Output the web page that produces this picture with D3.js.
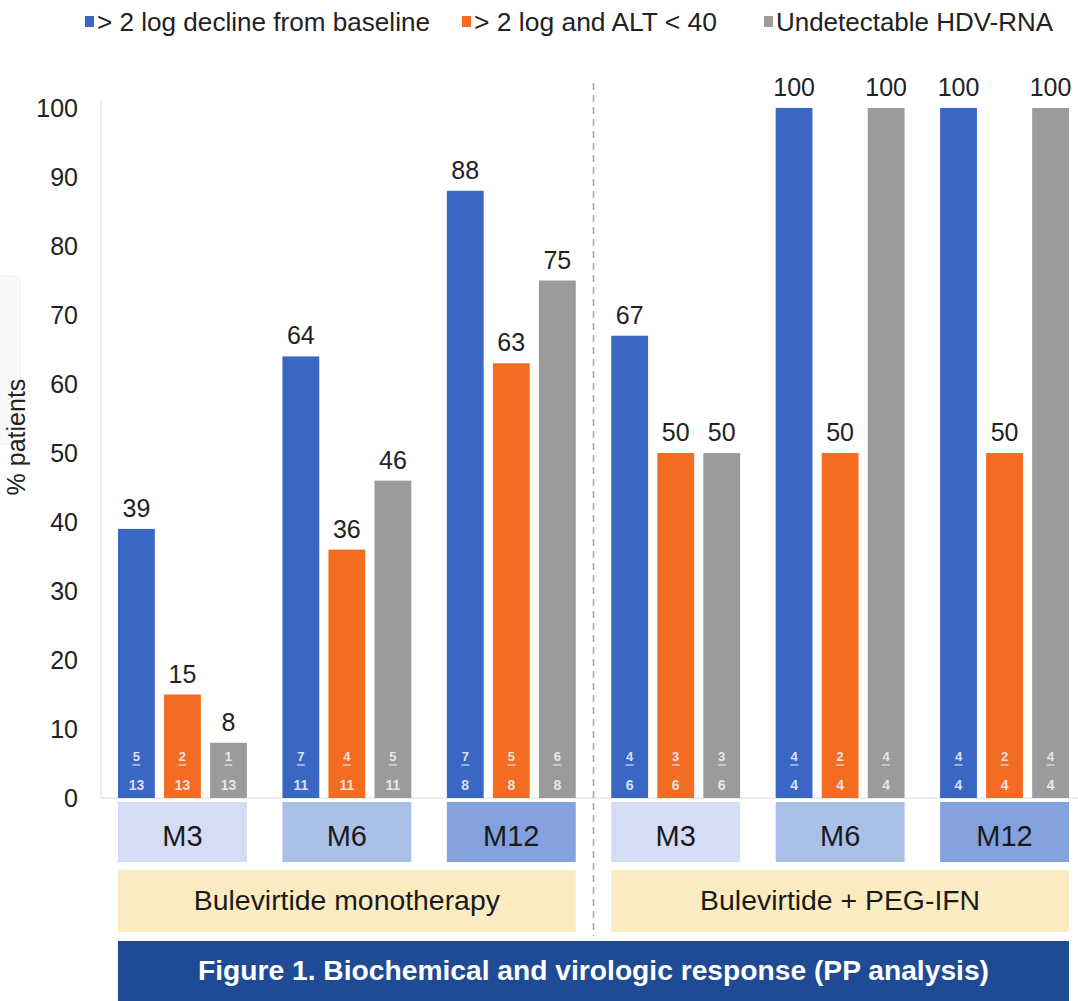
<!DOCTYPE html>
<html>
<head>
<meta charset="utf-8">
<script src="https://cdn.jsdelivr.net/npm/d3@7"></script>
<style>
  body { margin: 0; background: #fff; }
  svg { display: block; font-family: "Liberation Sans", Arial, sans-serif; }
</style>
</head>
<body>
<script>
// data
const arms = ["Bulevirtide monotherapy", "Bulevirtide + PEG-IFN"];
const timepoints = ["M3", "M6", "M12"];
const series = ["> 2 log decline from baseline", "> 2 log and ALT < 40", "Undetectable HDV-RNA"];

const declineValues = [39, 64, 88, 67, 100, 100];
const altValues = [15, 36, 63, 50, 50, 50];
const undetectValues = [8, 46, 75, 50, 100, 100];

const declineN = [5, 7, 7, 4, 4, 4];
const altN = [2, 4, 5, 3, 2, 2];
const undetectN = [1, 5, 6, 3, 4, 4];
const totals = [13, 11, 8, 6, 4, 4];

const yTicks = [0, 10, 20, 30, 40, 50, 60, 70, 80, 90, 100];

const width = 1078;
const height = 1001;

const colors = ["#3a66c4", "#f36c21", "#9b9b9b"];
const tpColors = {M3: "#d5ddf4", M6: "#aac0e8", M12: "#83a1dd"};

// one entry per timepoint cell
const cells = d3.range(6).map(i => ({
  i,
  arm: arms[Math.floor(i / 3)],
  tp: timepoints[i % 3],
  total: totals[i],
  bars: [
    {s: series[0], v: declineValues[i], n: declineN[i]},
    {s: series[1], v: altValues[i], n: altN[i]},
    {s: series[2], v: undetectValues[i], n: undetectN[i]}
  ]
}));

const svg = d3.select("body").append("svg")
  .attr("width", width)
  .attr("height", height)
  .attr("viewBox", [0, 0, width, height]);

const y = d3.scaleLinear().domain([0, 100]).range([798, 108]);

const x0 = d3.scaleBand()
  .domain(cells.map(d => d.i))
  .range([118, 1069])
  .paddingInner(0.216);

const x1 = d3.scaleBand()
  .domain(series)
  .range([0, x0.bandwidth()])
  .paddingInner(0.2);

const color = d3.scaleOrdinal().domain(series).range(colors);

// faint leftover panel on the left edge
svg.append("rect")
  .attr("x", -12).attr("y", 276)
  .attr("width", 32).attr("height", 168)
  .attr("rx", 6)
  .attr("fill", "#f8f8f8")
  .attr("stroke", "#ececec");

// axes lines
svg.append("line")
  .attr("x1", 101).attr("x2", 101)
  .attr("y1", 100).attr("y2", y(0))
  .attr("stroke", "#dcdcdc");

svg.append("line")
  .attr("x1", 101).attr("x2", width)
  .attr("y1", y(0)).attr("y2", y(0))
  .attr("stroke", "#dcdcdc");

// y axis
const yAxis = svg.append("g")
  .attr("transform", "translate(78,0)")
  .call(d3.axisLeft(y).tickValues(yTicks).tickSize(0).tickPadding(0));
yAxis.select(".domain").remove();
yAxis.selectAll("text")
  .attr("font-family", "Liberation Sans, Arial, sans-serif")
  .attr("font-size", 25)
  .attr("fill", "#222");

svg.append("text")
  .attr("transform", "translate(25,437) rotate(-90)")
  .attr("text-anchor", "middle")
  .attr("font-size", 25)
  .attr("fill", "#222")
  .text("% patients");

// dashed separator between the two arms
const sepX = (x0(2) + x0.bandwidth() + x0(3)) / 2;
svg.append("line")
  .attr("x1", sepX).attr("x2", sepX)
  .attr("y1", 83).attr("y2", 936)
  .attr("stroke", "#a8a8a8")
  .attr("stroke-width", 1.5)
  .attr("stroke-dasharray", "7,5");

// bars
const cellG = svg.append("g")
  .selectAll("g")
  .data(cells)
  .join("g")
  .attr("transform", d => `translate(${x0(d.i)},0)`);

cellG.selectAll("rect")
  .data(d => d.bars)
  .join("rect")
  .attr("x", d => x1(d.s))
  .attr("y", d => y(d.v))
  .attr("width", x1.bandwidth())
  .attr("height", d => y(0) - y(d.v))
  .attr("fill", d => color(d.s));

// value labels
cellG.selectAll("text.val")
  .data(d => d.bars)
  .join("text")
  .attr("class", "val")
  .attr("x", d => x1(d.s) + x1.bandwidth() / 2)
  .attr("y", d => y(d.v) - 12)
  .attr("text-anchor", "middle")
  .attr("font-size", 25)
  .attr("fill", "#222")
  .text(d => d.v);

// fractions inside bars
cellG.each(function(c) {
  const g = d3.select(this);
  c.bars.forEach(b => {
    const cx = x1(b.s) + x1.bandwidth() / 2;
    g.append("text")
      .attr("x", cx).attr("y", 761)
      .attr("text-anchor", "middle")
      .attr("font-size", 13)
      .attr("font-weight", "bold")
      .attr("fill", "#eef2fb")
      .attr("fill-opacity", 0.9)
      .text(b.n);
    g.append("line")
      .attr("x1", cx - 4).attr("x2", cx + 4)
      .attr("y1", 765).attr("y2", 765)
      .attr("stroke", "#eef2fb")
      .attr("stroke-opacity", 0.85)
      .attr("stroke-width", 1.2);
    g.append("text")
      .attr("x", cx).attr("y", 790)
      .attr("text-anchor", "middle")
      .attr("font-size", 14)
      .attr("font-weight", "bold")
      .attr("fill", "#eef2fb")
      .attr("fill-opacity", 0.9)
      .text(c.total);
  });
});

// timepoint boxes
const tpG = svg.append("g")
  .selectAll("g")
  .data(cells)
  .join("g")
  .attr("transform", d => `translate(${x0(d.i)},802)`);

tpG.append("rect")
  .attr("width", x0.bandwidth())
  .attr("height", 60)
  .attr("fill", d => tpColors[d.tp]);

tpG.append("text")
  .attr("x", x0.bandwidth() / 2)
  .attr("y", 34)
  .attr("dy", "0.35em")
  .attr("text-anchor", "middle")
  .attr("font-size", 29)
  .attr("fill", "#1a1a1a")
  .text(d => d.tp);

// arm boxes
const armWidths = [306, 280];
const armG = svg.append("g")
  .selectAll("g")
  .data(arms)
  .join("g");

armG.append("rect")
  .attr("x", (d, k) => x0(k * 3))
  .attr("y", 870)
  .attr("width", (d, k) => x0(k * 3 + 2) + x0.bandwidth() - x0(k * 3))
  .attr("height", 62)
  .attr("fill", "#fbebc1");

armG.append("text")
  .attr("x", (d, k) => (x0(k * 3) + x0(k * 3 + 2) + x0.bandwidth()) / 2)
  .attr("y", 901)
  .attr("dy", "0.35em")
  .attr("text-anchor", "middle")
  .attr("font-size", 27)
  .attr("fill", "#1a1a1a")
  .attr("textLength", (d, k) => armWidths[k])
  .attr("lengthAdjust", "spacingAndGlyphs")
  .text(d => d);

// figure caption bar
svg.append("rect")
  .attr("x", x0(0))
  .attr("y", 941)
  .attr("width", x0(5) + x0.bandwidth() - x0(0))
  .attr("height", 62)
  .attr("fill", "#1f4b94");

svg.append("text")
  .attr("x", (x0(0) + x0(5) + x0.bandwidth()) / 2)
  .attr("y", 970)
  .attr("dy", "0.35em")
  .attr("text-anchor", "middle")
  .attr("font-size", 28)
  .attr("font-weight", "bold")
  .attr("fill", "#fff")
  .attr("textLength", 791)
  .attr("lengthAdjust", "spacingAndGlyphs")
  .text("Figure 1. Biochemical and virologic response (PP analysis)");

// legend
const legendX = [85, 462, 764];
const legendW = [333, 243, 277];
const legend = svg.append("g")
  .selectAll("g")
  .data(series)
  .join("g")
  .attr("transform", (d, k) => `translate(${legendX[k]},16)`);

legend.append("rect")
  .attr("width", 9)
  .attr("height", 11)
  .attr("fill", d => color(d));

legend.append("text")
  .attr("x", 12)
  .attr("y", 6)
  .attr("dy", "0.35em")
  .attr("font-size", 26)
  .attr("fill", "#222")
  .attr("textLength", (d, k) => legendW[k])
  .attr("lengthAdjust", "spacingAndGlyphs")
  .text(d => d);
</script>
</body>
</html>
